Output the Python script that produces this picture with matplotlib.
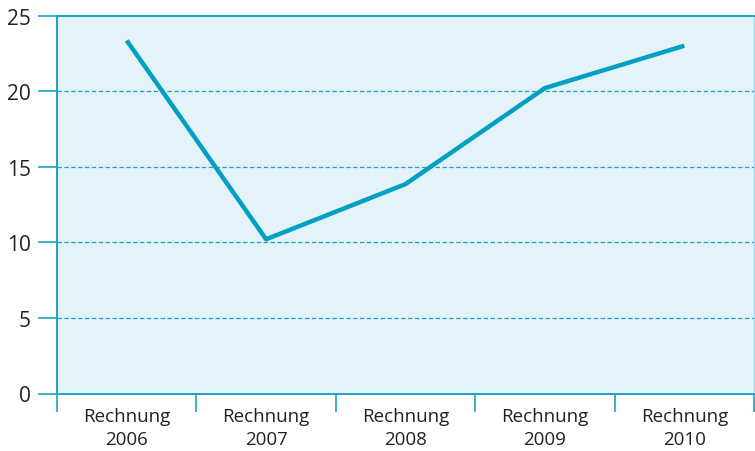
import numpy as np
import matplotlib.pyplot as plt

plt.rcParams['font.family'] = ['Open Sans', 'DejaVu Sans']

# data
kategorien = ['Rechnung\n2006', 'Rechnung\n2007', 'Rechnung\n2008', 'Rechnung\n2009', 'Rechnung\n2010']
werte = [23.35, 10.2, 13.85, 20.2, 23.0]
y_ticks = [0, 5, 10, 15, 20, 25]

blau = '#00a0c2'
achse = '#1aa3c4'

fig = plt.figure(figsize=(7.55, 4.52), dpi=100)
ax = fig.add_axes([57/755, 57.5/452, 697/755, 378/452])
ax.set_facecolor('#e3f3f9')

x = np.arange(len(werte))
ax.plot(x, werte, color=blau, lw=3.2, solid_capstyle='butt', zorder=3)

ax.set_xlim(-0.5, len(werte) - 0.5)
ax.set_ylim(0, 25)

# gestrichelte Gitterlinien
for yv in y_ticks[1:-1]:
    ax.axhline(yv, color=achse, lw=0.9, ls=(0, (3.5, 2)), zorder=1)

ax.set_yticks(y_ticks)
ax.set_xticks(x)
ax.set_xticklabels(kategorien, fontsize=13.5, color='#222222', linespacing=1.3)
ax.tick_params(axis='x', length=0, pad=10)
ax.set_xticks(np.arange(len(werte) + 1) - 0.5, minor=True)
ax.tick_params(axis='x', which='minor', length=13, width=1.2, color=achse)
ax.tick_params(axis='y', length=14, width=1.2, color=achse, labelsize=15,
               labelcolor='#222222', pad=5)

for s in ['left', 'bottom', 'top']:
    ax.spines[s].set_color(achse)
    ax.spines[s].set_linewidth(1.4)
ax.spines['right'].set_color('#9fd6e6')
ax.spines['right'].set_linewidth(1.0)

plt.savefig('out.png', dpi=100)
